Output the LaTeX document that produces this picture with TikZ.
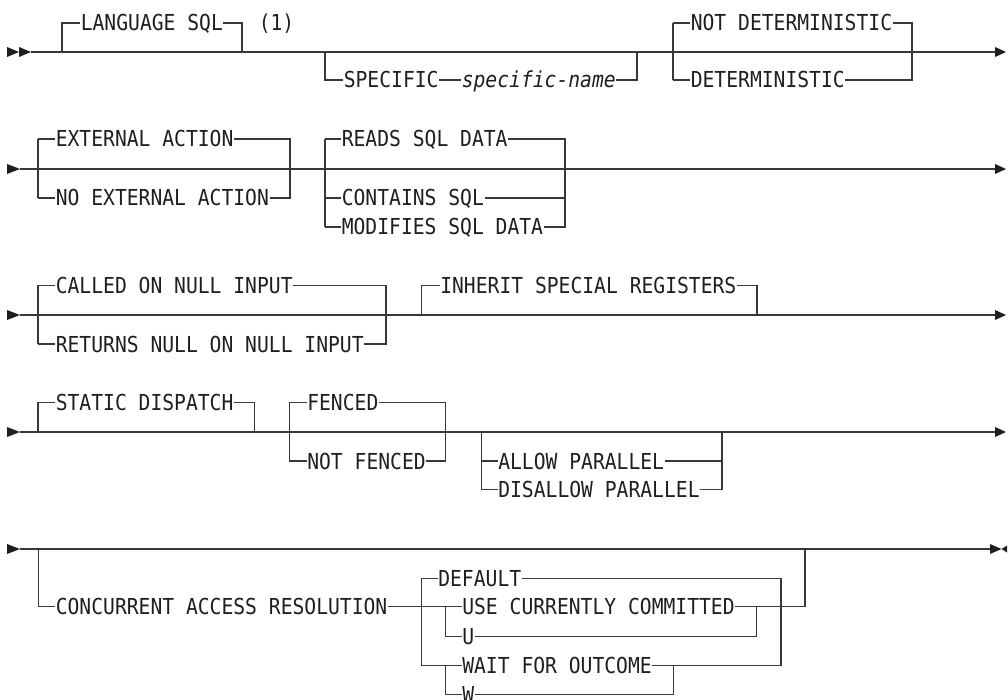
\documentclass[tikz,border=0pt]{standalone}
\usepackage{fontspec}
\newfontfamily\dmono{DejaVu Sans Mono}[FakeStretch=0.894]
\tikzset{
  rr/.style={line width=1.1pt, draw=black!78},
  lbl/.style={font=\dmono\fontsize{22pt}{26pt}\selectfont, text=black!88, fill=white, inner xsep=0.6pt, inner ysep=0.5pt, anchor=base west},
  tri/.style={fill=black!88}
}
\newcommand\T[4]{\node[lbl] (#1) at (#2,#3+8) {#4};}
\begin{document}
\begin{tikzpicture}[x=1pt,y=-1pt]
\useasboundingbox (0,0) rectangle (1008,700);
% ---------- Row 1 ----------
\fill[tri] (7,47)--(19,52)--(7,57)--cycle;
\fill[tri] (19,47)--(31,52)--(19,57)--cycle;
\draw[rr] (31,52)--(996,52);
\fill[tri] (995,47)--(1006,52)--(995,57)--cycle;
\draw[rr] (62,52)--(62,23)--(242,23)--(242,52);
\draw[rr] (325,52)--(325,80)--(637,80)--(637,52);
\draw[rr] (673,23)--(673,80) (673,23)--(912,23)--(912,80)--(673,80);
% ---------- Row 2 ----------
\fill[tri] (7,164)--(20,169)--(7,174)--cycle;
\draw[rr] (20,169)--(996,169);
\fill[tri] (995,164)--(1006,169)--(995,174)--cycle;
\draw[rr] (38,139)--(38,198) (38,139)--(290,139)--(290,198)--(38,198);
\draw[rr] (325,139)--(325,227) (325,139)--(565,139)--(565,227)--(325,227) (325,198)--(565,198);
% ---------- Row 3 ----------
\fill[tri] (7,310)--(20,315)--(7,320)--cycle;
\draw[rr] (20,315)--(996,315);
\fill[tri] (995,310)--(1006,315)--(995,320)--cycle;
\draw[rr] (38,285.5)--(38,344) (38,285.5)--(386,285.5)--(386,344)--(38,344);
\draw[rr] (421.7,315)--(421.7,285.5)--(757,285.5)--(757,315);
% ---------- Row 4 ----------
\fill[tri] (7,427)--(20,432)--(7,437)--cycle;
\draw[rr] (20,432)--(996,432);
\fill[tri] (995,427)--(1006,432)--(995,437)--cycle;
\draw[rr] (38,432)--(38,402.7)--(254.3,402.7)--(254.3,432);
\draw[rr] (289.3,402.7)--(289.3,461) (289.3,402.7)--(445.3,402.7)--(445.3,461)--(289.3,461);
\draw[rr] (481.7,432)--(481.7,489.3)--(722,489.3)--(722,432) (481.7,461)--(722,461);
% ---------- Row 5 ----------
\fill[tri] (7,544)--(20,549)--(7,554)--cycle;
\draw[rr] (20,549)--(991,549);
\fill[tri] (990,544)--(1001.5,549)--(990,554)--cycle;
\fill[tri] (1007,545.5)--(1001.5,549)--(1007,552.5)--cycle;
\draw[rr] (38.3,549)--(38.3,606.7)--(805,606.7)--(805,549);
\draw[rr] (421.7,578.3)--(421.7,665.7) (421.7,578.3)--(781,578.3)--(781,665.7)--(421.7,665.7);
\draw[rr] (445.7,606.7)--(445.7,636.7)--(756.7,636.7)--(756.7,606.7);
\draw[rr] (445.7,665.7)--(445.7,694.3)--(673.3,694.3)--(673.3,665.7);
% ---------- Labels ----------
\T{lang}{80}{23}{LANGUAGE SQL}
\node[lbl, fill=none] (note) at (258,23+8) {(1)};
\T{spec}{343}{80}{SPECIFIC}
\T{specn}{461}{80}{\itshape specific-name}
\T{notdet}{690}{23}{NOT DETERMINISTIC}
\T{det}{690}{80}{DETERMINISTIC}
\T{ext}{55}{139}{EXTERNAL ACTION}
\T{noext}{55}{198}{NO EXTERNAL ACTION}
\T{reads}{341}{139}{READS SQL DATA}
\T{cont}{341}{198}{CONTAINS SQL}
\T{mod}{341}{227}{MODIFIES SQL DATA}
\T{called}{55}{285.5}{CALLED ON NULL INPUT}
\T{retn}{55}{344}{RETURNS NULL ON NULL INPUT}
\T{inh}{439.5}{285.5}{INHERIT SPECIAL REGISTERS}
\T{stat}{55}{402.7}{STATIC DISPATCH}
\T{fenc}{306.5}{402.7}{FENCED}
\T{nfenc}{306.5}{461}{NOT FENCED}
\T{allow}{497.5}{461}{ALLOW PARALLEL}
\T{disal}{497.5}{489.3}{DISALLOW PARALLEL}
\T{car}{55}{606.7}{CONCURRENT ACCESS RESOLUTION}
\T{def}{437.5}{578.3}{DEFAULT}
\T{ucc}{461.5}{606.7}{USE CURRENTLY COMMITTED}
\T{u}{461.5}{636.7}{U}
\T{wfo}{461.5}{665.7}{WAIT FOR OUTCOME}
\T{w}{461.5}{694.3}{W}
\end{tikzpicture}
\end{document}
